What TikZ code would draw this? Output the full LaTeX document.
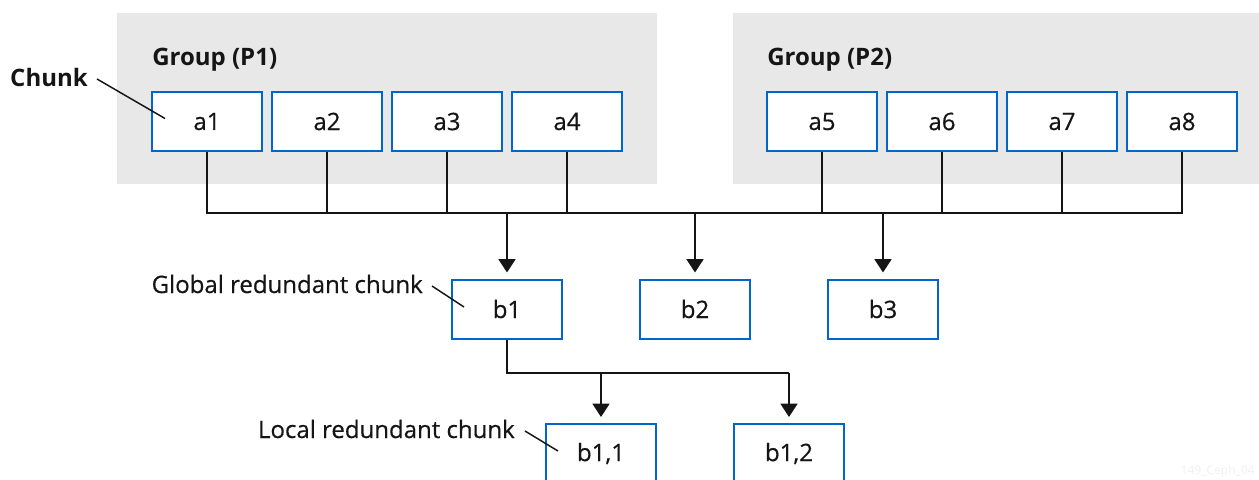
\documentclass[tikz,border=0pt]{standalone}
\usepackage{fontspec}
\setmainfont{Open Sans}
\newfontfamily\labelfont{Open Sans}[FakeBold=0.5]
\usetikzlibrary{arrows.meta,calc,positioning}
\definecolor{boxblue}{HTML}{0066CC}
\definecolor{groupgray}{HTML}{E8E8E8}
\definecolor{inkdark}{HTML}{151515}
\tikzstyle{chunk} = [draw=boxblue, line width=1.5pt, fill=white, rectangle, minimum width=82.5pt, minimum height=44.25pt, font=\fontsize{18}{21}\labelfont, text=inkdark]
\tikzstyle{grouptitle} = [anchor=west, inner sep=0pt, font=\fontsize{18}{21}\selectfont\bfseries, text=inkdark]
\tikzstyle{lbl} = [anchor=east, inner sep=0pt, font=\fontsize{18}{21}\labelfont, text=inkdark]
\tikzstyle{line} = [draw=inkdark, line width=1.1pt]
\tikzstyle{arrow} = [line, -{Triangle[width=12.75pt,length=10pt]}, shorten >=4.5pt]
\tikzstyle{leader} = [draw=inkdark, line width=1.1pt]

\begin{document}
\begin{tikzpicture}[x=0.75pt, y=-0.75pt, node distance=90pt]
	\useasboundingbox (0,0) rectangle (1259,479);
	% groups
	\fill[groupgray] (117,13) rectangle (657,184);
	\fill[groupgray] (733,13) rectangle (1259,184);
	\node [grouptitle] (p1) at (152,60) {Group (P1)};
	\node [grouptitle] (p2) at (767,60) {Group (P2)};

	% data chunks
	\node [chunk] (a1) at (207,121.5) {a1};
	\node [chunk, right of=a1] (a2) {a2};
	\node [chunk, right of=a2] (a3) {a3};
	\node [chunk, right of=a3] (a4) {a4};
	\node [chunk, right of=a4, node distance=191.25pt] (a5) {a5};
	\node [chunk, right of=a5] (a6) {a6};
	\node [chunk, right of=a6] (a7) {a7};
	\node [chunk, right of=a7] (a8) {a8};

	% redundant chunks
	\node [chunk] (b1) at (507,309) {b1};
	\node [chunk, right of=b1, node distance=141pt] (b2) {b2};
	\node [chunk, right of=b2, node distance=141pt] (b3) {b3};
	\node [chunk] (b11) at (601,453.5) {b1,1};
	\node [chunk, right of=b11, node distance=141pt] (b12) {b1,2};

	\coordinate (bus) at (0,213);
	\coordinate (split) at (0,373);

	% labels
	\node [lbl, font=\fontsize{18}{21}\selectfont\bfseries] (chunklbl) at (88,77) {Chunk};
	\node [lbl] (globallbl) at (423,284) {Global redundant chunk};
	\node [lbl] (locallbl) at (515,429) {Local redundant chunk};
	\draw [leader] ($(chunklbl.east)+(9,2)$) -- ($(a1.center)+(-42,-3)$);
	\draw [leader] ($(globallbl.east)+(9,2)$) -- ($(b1.center)+(-43,-2)$);
	\draw [leader] ($(locallbl.east)+(10,2)$) -- ($(b11.center)+(-43,-2.5)$);

	% connectors
	\path [line] (a1.south) |- (bus -| a8) -- (a8.south);
	\foreach \n in {2,...,7}
		\path [line] (a\n.south) -- (bus -| a\n);
	\foreach \n in {b1,b2,b3}
		\path [arrow] (bus -| \n) -- (\n.north);
	\path [line] (b1.south) |- (split -| b12);
	\path [arrow] (split -| b11) -- (b11.north);
	\path [arrow] (split -| b12) -- (b12.north);

	\node [anchor=base east, inner sep=0pt, text=gray!12, font=\fontsize{9}{11}\selectfont] (mark) at (1255,474) {149\_Ceph\_04};
\end{tikzpicture}
\end{document}
